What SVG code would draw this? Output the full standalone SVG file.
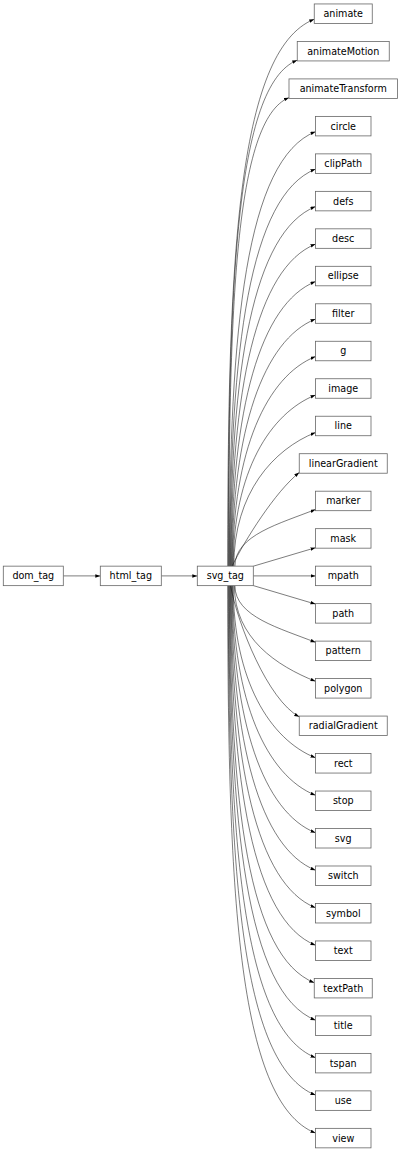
<svg xmlns="http://www.w3.org/2000/svg" width="401" height="1152" viewBox="0 0 401 1152">
<style>
.n rect{fill:#fff;stroke:#666;stroke-width:0.8}
.n text{font-family:"DejaVu Sans",sans-serif;font-size:9.6px;text-anchor:middle;fill:#000}
#edges path{fill:none;stroke:#111;stroke-width:0.55;marker-end:url(#ah)}
</style>
<defs>
<marker id="ah" markerWidth="6" markerHeight="4" refX="5" refY="1.75" orient="auto" markerUnits="userSpaceOnUse"><path d="M0,0 L5,1.75 L0,3.5 z" fill="#000"/></marker>
</defs>
<rect width="401" height="1152" fill="#fff"/>
<g id="edges">
<path d="M63.3,575.9 L100.3,575.9"/>
<path d="M161.3,575.9 L197.3,575.9"/>
<path d="M227.75,566.2 C227.75,265.3 236.35,50.4 314.25,19.2"/>
<path d="M228.3,566.2 C228.3,287.9 235.15,85 297.25,60.18"/>
<path d="M228.85,566.2 C228.85,308.5 234.9,119.3 289,97.66"/>
<path d="M229.4,566.2 C229.4,327.2 246.4,159.3 315.5,131.64"/>
<path d="M229.95,566.2 C229.95,347.8 249.8,195.4 315.5,169.12"/>
<path d="M230.5,566.2 C230.5,368.4 253.1,231.6 315.5,206.6"/>
<path d="M231.05,566.2 C231.05,389 256.5,267.7 315.5,244.08"/>
<path d="M231.6,566.2 C231.6,409.7 259.9,303.8 315.5,281.56"/>
<path d="M232.15,566.2 C232.15,430.2 263.3,339.9 315.5,319.04"/>
<path d="M232.7,566.2 C232.7,450.9 266.6,376.1 315.5,356.52"/>
<path d="M233.25,566.2 C233.25,472 270.1,413.2 315.5,395"/>
<path d="M233.8,566.2 C233.8,492.7 273.5,449.3 315.5,432.48"/>
<path d="M232,566.2 C245,540 275,492 299.25,472.5"/>
<path d="M234.9,566.2 C234.9,535 280.4,523.5 315.5,509.44"/>
<path d="M253.3,566.2 L315.5,547.7"/>
<path d="M253.3,575.9 L315.5,575.9"/>
<path d="M253.3,585.6 L315.5,604.1"/>
<path d="M234.9,585.6 C234.9,616.8 280.4,628.3 315.5,642.36"/>
<path d="M234.35,585.6 C234.35,638.2 276.9,665.9 315.5,681.34"/>
<path d="M230.5,585.6 C238,625 268,700 299.25,716.82"/>
<path d="M233.25,585.6 C233.25,680.3 270,739.6 315.5,757.8"/>
<path d="M232.7,585.6 C232.7,700.9 266.6,775.7 315.5,795.28"/>
<path d="M232.15,585.6 C232.15,721.5 263.3,811.9 315.5,832.76"/>
<path d="M231.6,585.6 C231.6,742.2 259.9,848 315.5,870.24"/>
<path d="M231.05,585.6 C231.05,762.8 256.5,884.1 315.5,907.72"/>
<path d="M230.5,585.6 C230.5,783.4 253.1,920.2 315.5,945.2"/>
<path d="M229.95,585.6 C229.95,804 248.55,956.4 314.25,982.68"/>
<path d="M229.4,585.6 C229.4,824.6 246.4,992.6 315.5,1020.16"/>
<path d="M228.85,585.6 C228.85,845.2 243,1028.6 315.5,1057.64"/>
<path d="M228.3,585.6 C228.3,865.8 239.6,1064.7 315.5,1095.12"/>
<path d="M227.75,585.6 C227.75,886.7 236.5,1101.5 315.5,1133.1"/>
</g>
<g id="dom_tag" class="n"><rect x="3.3" y="566.15" width="60" height="19.5"/><text x="33.3" y="579.3">dom_tag</text></g>
<g id="html_tag" class="n"><rect x="100.3" y="566.15" width="61" height="19.5"/><text x="130.8" y="579.3">html_tag</text></g>
<g id="svg_tag" class="n"><rect x="197.3" y="566.15" width="56" height="19.5"/><text x="225.3" y="579.3">svg_tag</text></g>
<g id="animate" class="n"><rect x="314.25" y="3.95" width="58" height="19.5"/><text x="343.25" y="17.1">animate</text></g>
<g id="animateMotion" class="n"><rect x="297.25" y="41.43" width="92" height="19.5"/><text x="343.25" y="54.58">animateMotion</text></g>
<g id="animateTransform" class="n"><rect x="289" y="78.91" width="108.5" height="19.5"/><text x="343.25" y="92.06">animateTransform</text></g>
<g id="circle" class="n"><rect x="315.5" y="116.39" width="55.5" height="19.5"/><text x="343.25" y="129.54">circle</text></g>
<g id="clipPath" class="n"><rect x="315.5" y="153.87" width="55.5" height="19.5"/><text x="343.25" y="167.02">clipPath</text></g>
<g id="defs" class="n"><rect x="315.5" y="191.35" width="55.5" height="19.5"/><text x="343.25" y="204.5">defs</text></g>
<g id="desc" class="n"><rect x="315.5" y="228.83" width="55.5" height="19.5"/><text x="343.25" y="241.98">desc</text></g>
<g id="ellipse" class="n"><rect x="315.5" y="266.31" width="55.5" height="19.5"/><text x="343.25" y="279.46">ellipse</text></g>
<g id="filter" class="n"><rect x="315.5" y="303.79" width="55.5" height="19.5"/><text x="343.25" y="316.94">filter</text></g>
<g id="g" class="n"><rect x="315.5" y="341.27" width="55.5" height="19.5"/><text x="343.25" y="354.42">g</text></g>
<g id="image" class="n"><rect x="315.5" y="378.75" width="55.5" height="19.5"/><text x="343.25" y="391.9">image</text></g>
<g id="line" class="n"><rect x="315.5" y="416.23" width="55.5" height="19.5"/><text x="343.25" y="429.38">line</text></g>
<g id="linearGradient" class="n"><rect x="299.25" y="453.71" width="88" height="19.5"/><text x="343.25" y="466.86">linearGradient</text></g>
<g id="marker" class="n"><rect x="315.5" y="491.19" width="55.5" height="19.5"/><text x="343.25" y="504.34">marker</text></g>
<g id="mask" class="n"><rect x="315.5" y="528.67" width="55.5" height="19.5"/><text x="343.25" y="541.82">mask</text></g>
<g id="mpath" class="n"><rect x="315.5" y="566.15" width="55.5" height="19.5"/><text x="343.25" y="579.3">mpath</text></g>
<g id="path" class="n"><rect x="315.5" y="603.63" width="55.5" height="19.5"/><text x="343.25" y="616.78">path</text></g>
<g id="pattern" class="n"><rect x="315.5" y="641.11" width="55.5" height="19.5"/><text x="343.25" y="654.26">pattern</text></g>
<g id="polygon" class="n"><rect x="315.5" y="678.59" width="55.5" height="19.5"/><text x="343.25" y="691.74">polygon</text></g>
<g id="radialGradient" class="n"><rect x="299.25" y="716.07" width="88" height="19.5"/><text x="343.25" y="729.22">radialGradient</text></g>
<g id="rect" class="n"><rect x="315.5" y="753.55" width="55.5" height="19.5"/><text x="343.25" y="766.7">rect</text></g>
<g id="stop" class="n"><rect x="315.5" y="791.03" width="55.5" height="19.5"/><text x="343.25" y="804.18">stop</text></g>
<g id="svg" class="n"><rect x="315.5" y="828.51" width="55.5" height="19.5"/><text x="343.25" y="841.66">svg</text></g>
<g id="switch" class="n"><rect x="315.5" y="865.99" width="55.5" height="19.5"/><text x="343.25" y="879.14">switch</text></g>
<g id="symbol" class="n"><rect x="315.5" y="903.47" width="55.5" height="19.5"/><text x="343.25" y="916.62">symbol</text></g>
<g id="text" class="n"><rect x="315.5" y="940.95" width="55.5" height="19.5"/><text x="343.25" y="954.1">text</text></g>
<g id="textPath" class="n"><rect x="314.25" y="978.43" width="58" height="19.5"/><text x="343.25" y="991.58">textPath</text></g>
<g id="title" class="n"><rect x="315.5" y="1015.91" width="55.5" height="19.5"/><text x="343.25" y="1029.06">title</text></g>
<g id="tspan" class="n"><rect x="315.5" y="1053.39" width="55.5" height="19.5"/><text x="343.25" y="1066.54">tspan</text></g>
<g id="use" class="n"><rect x="315.5" y="1090.87" width="55.5" height="19.5"/><text x="343.25" y="1104.02">use</text></g>
<g id="view" class="n"><rect x="315.5" y="1128.35" width="55.5" height="19.5"/><text x="343.25" y="1141.5">view</text></g>
</svg>
